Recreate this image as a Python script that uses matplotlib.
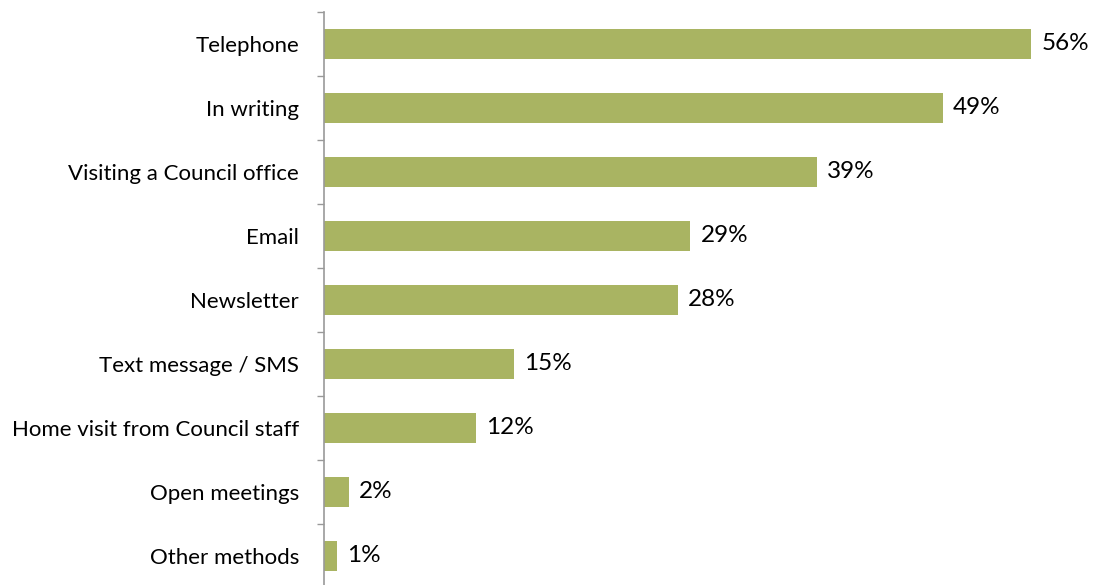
import matplotlib
matplotlib.use("Agg")
import matplotlib.pyplot as plt
import numpy as np

categories = ["Telephone", "In writing", "Visiting a Council office", "Email",
              "Newsletter", "Text message / SMS", "Home visit from Council staff",
              "Open meetings", "Other methods"]
values = [56, 49, 39, 29, 28, 15, 12, 2, 1]
value_labels = ["56%", "49%", "39%", "29%", "28%", "15%", "12%", "2%", "1%"]

plt.rcParams['font.family'] = ['Lato', 'DejaVu Sans']

fig = plt.figure(figsize=(10.97, 5.85), dpi=100)
ax = fig.add_axes([324/1097, -3/585, 758/1097, 576/585])

y = np.arange(len(categories))
ax.barh(y, values, height=0.47, color="#A9B462")
ax.set_ylim(len(categories) - 0.5, -0.5)
ax.set_xlim(0, 60)

for yi, v, lab in zip(y, values, value_labels):
    ax.text(v + 0.8, yi, lab, va="center", ha="left", fontsize=17.5, color="black")

ax.set_yticks(y)
ax.set_yticklabels(categories, fontsize=16)
ax.tick_params(axis="y", which="major", length=0, pad=18)
ax.set_yticks(np.arange(-0.5, len(categories), 1), minor=True)
ax.tick_params(axis="y", which="minor", length=5, color="#999999", width=1)
ax.set_xticks([])
for s in ["top", "right", "bottom"]:
    ax.spines[s].set_visible(False)
ax.spines["left"].set_color("#999999")
ax.spines["left"].set_linewidth(1.2)

fig.savefig("out.png", dpi=100)
